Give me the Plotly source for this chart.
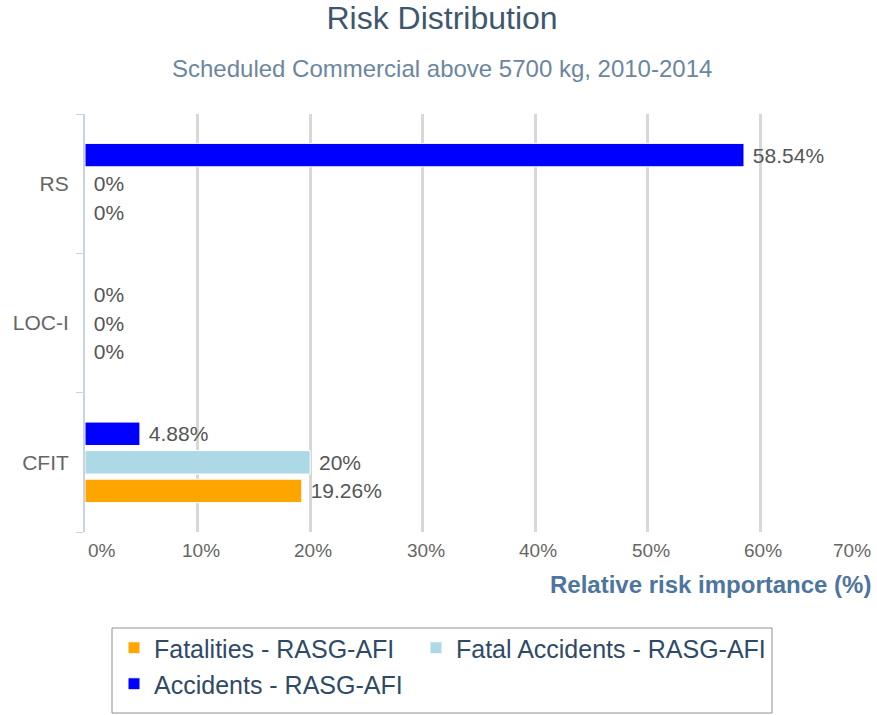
import plotly.graph_objects as go

categories = ["RS", "LOC-I", "CFIT"]
fatalities = [0, 0, 19.26]
fatal_accidents = [0, 0, 20]
accidents = [58.54, 0, 4.88]
x_ticks = [0, 10, 20, 30, 40, 50, 60, 70]
x_tick_labels = ["0%", "10%", "20%", "30%", "40%", "50%", "60%", "70%"]

FONT = "Liberation Sans, Arial, sans-serif"
LABEL_COLOR = "#555555"

# plot-area pixel geometry (for converting page pixels to paper fractions)
PL, PR, PT, PB = 85, 873, 114, 532
def px(x):
    return (x - PL) / (PR - PL)
def py(y):
    return (PB - y) / (PB - PT)

fig = go.Figure()
series = [
    ("Fatalities - RASG-AFI", fatalities, "#FFA500", "legend"),
    ("Fatal Accidents - RASG-AFI", fatal_accidents, "#ADD8E6", "legend3"),
    ("Accidents - RASG-AFI", accidents, "#0000FF", "legend2"),
]
for name, vals, color, leg in series:
    fig.add_trace(go.Bar(
        y=categories, x=vals, name=name, orientation="h", legend=leg,
        marker=dict(color=color, line=dict(color="white", width=1)),
        text=[f"\u00a0{v:g}%" for v in vals],
        textposition="outside", cliponaxis=False,
        textfont=dict(family=FONT, size=21, color=LABEL_COLOR),
        hoverinfo="skip",
    ))

annotations = []
for v, t in zip(x_ticks, x_tick_labels):
    if v == x_ticks[0]:
        anchor, shift = "left", 1
    elif v == x_ticks[-1]:
        anchor, shift = "right", 0
    else:
        anchor, shift = "center", 3
    annotations.append(dict(
        x=v, xref="x", y=0, yref="paper", yanchor="top", yshift=-6,
        xanchor=anchor, xshift=shift, text=t, showarrow=False,
        font=dict(family=FONT, size=19, color="#666666"),
    ))

annotations.append(dict(
    x=1, xref="paper", xanchor="right", y=0, yref="paper", yanchor="top", yshift=-37,
    text="<b>Relative risk importance (%)</b>", showarrow=False,
    font=dict(family=FONT, size=24, color="#4d759e"),
))
annotations.append(dict(
    x=px(442), xref="paper", xanchor="center",
    y=1, yref="paper", yanchor="middle", yshift=46,
    text="Scheduled Commercial above 5700 kg, 2010-2014", showarrow=False,
    font=dict(family=FONT, size=24, color="#6D869F"),
))

legend_common = dict(
    orientation="h", xanchor="left", yanchor="top",
    bgcolor="rgba(0,0,0,0)", borderwidth=0,
    font=dict(family=FONT, size=25, color="#2f4a66"),
    itemclick=False, itemdoubleclick=False,
)

fig.update_layout(
    width=877, height=715,
    margin=dict(l=PL, r=877 - PR, t=PT, b=715 - PB),
    paper_bgcolor="white", plot_bgcolor="white",
    title=dict(text="Risk Distribution", x=442 / 877, xanchor="center", xref="container",
               y=1 - 18 / 715, yanchor="middle", yref="container",
               font=dict(family=FONT, size=32, color="#3E576F")),
    barmode="group", bargap=0.385, bargroupgap=0.18,
    xaxis=dict(range=[0, 70], tickvals=x_ticks, showticklabels=False,
               showgrid=True, gridcolor="#d8d8d8", gridwidth=3,
               zeroline=False, showline=False, ticks=""),
    yaxis=dict(categoryorder="array", categoryarray=categories[::-1],
               showline=True, linecolor="#c8d4e2", linewidth=2,
               ticks="outside", tickson="boundaries", ticklen=7,
               tickcolor="#c8d4e2", tickwidth=1, showgrid=False,
               ticklabelstandoff=10,
               tickfont=dict(family=FONT, size=21, color="#666666")),
    legend=dict(x=px(114), y=py(625), **legend_common),
    legend3=dict(x=px(416), y=py(625), **legend_common),
    legend2=dict(x=px(114), y=py(661), **legend_common),
    shapes=[dict(type="rect", xref="paper", yref="paper",
                 x0=px(112), x1=px(772), y0=py(628), y1=py(713),
                 line=dict(color="#909090", width=1), fillcolor="rgba(0,0,0,0)",
                 layer="below")],
    annotations=annotations,
    showlegend=True,
)

fig.write_html(
    "out.html",
    config={"displayModeBar": False},
    post_script="document.body.style.margin='0px';document.body.style.overflow='hidden';",
)
